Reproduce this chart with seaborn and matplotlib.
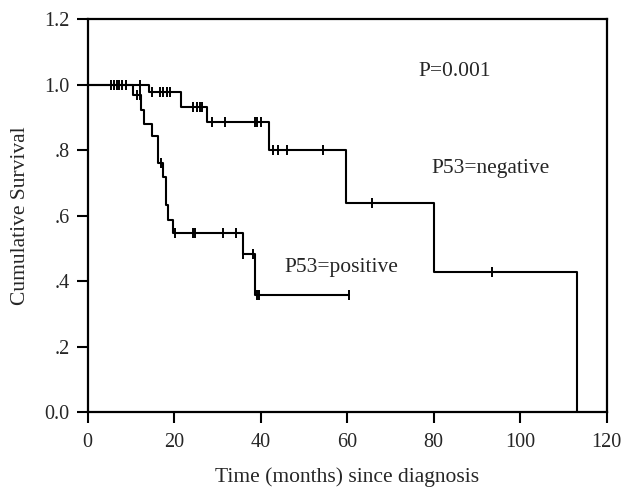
import numpy as np
import pandas as pd
import matplotlib
matplotlib.use('Agg')
import matplotlib.pyplot as plt
import seaborn as sns

# Kaplan-Meier steps (months, cumulative survival)
neg_time = [0, 14.2, 21.5, 27.5, 41.9, 59.7, 80.1, 113.1]
neg_surv = [1.0, 0.977, 0.932, 0.887, 0.800, 0.638, 0.428, 0.0]
neg_censored = [5.4, 6.2, 6.7, 7.3, 7.9, 8.9, 12.1, 14.9, 16.7, 17.3, 18.4, 19.0,
                24.4, 25.2, 26.0, 26.4, 28.7, 31.7, 38.7, 39.2, 40.0,
                42.8, 44.1, 46.0, 54.5, 65.7, 93.6]

pos_time = [0, 10.4, 12.25, 13.0, 14.9, 16.3, 17.5, 18.1, 18.5, 19.7, 35.8, 38.6, 60.4]
pos_surv = [1.0, 0.967, 0.922, 0.881, 0.843, 0.762, 0.718, 0.633, 0.587, 0.547, 0.482, 0.357, 0.357]
pos_censored = [11.3, 12.0, 17.0, 20.1, 24.4, 24.9, 31.3, 34.4, 36.0, 38.3, 39.1, 39.6, 60.4]

x_ticks = [0, 20, 40, 60, 80, 100, 120]
y_ticks = [0.0, 0.2, 0.4, 0.6, 0.8, 1.0, 1.2]
y_tick_labels = ['0.0', '.2', '.4', '.6', '.8', '1.0', '1.2']


def step_value(times, surv, t):
    idx = np.searchsorted(times, t, side='right') - 1
    return np.asarray(surv)[idx]


sns.set_style('ticks')
plt.rcParams['font.family'] = ['Liberation Serif', 'DejaVu Serif']

fig = plt.figure(figsize=(6.21, 4.91), dpi=100)
ax = fig.add_axes([0.1412, 0.1599, 0.8357, 0.8014])

for times, surv, cens in [(neg_time, neg_surv, neg_censored),
                          (pos_time, pos_surv, pos_censored)]:
    curve = pd.DataFrame({'time': times, 'surv': surv})
    sns.lineplot(data=curve, x='time', y='surv', drawstyle='steps-post',
                 estimator=None, sort=False, color='black', linewidth=1.5, ax=ax)
    marks = pd.DataFrame({'time': cens, 'surv': step_value(times, surv, cens)})
    sns.scatterplot(data=marks, x='time', y='surv', marker='|', s=45,
                    color='black', linewidth=1.4, ax=ax, zorder=3)

ax.text(76.4, 1.041, 'P=0.001', va='center', fontsize=15.5)
ax.text(79.5, 0.743, 'P53=negative', va='center', fontsize=15.5)
ax.text(45.6, 0.443, 'P53=positive', va='center', fontsize=15.5)

ax.set_xlim(0, 120)
ax.set_ylim(0, 1.2)
ax.set_xticks(x_ticks)
ax.set_yticks(y_ticks)
ax.set_yticklabels(y_tick_labels)
ax.tick_params(direction='out', length=8, width=1.5, labelsize=14.5, pad=5, color='black')
ax.tick_params(axis='x', pad=7)
for side in ['left', 'right', 'top', 'bottom']:
    ax.spines[side].set_visible(True)
    ax.spines[side].set_linewidth(1.6)
    ax.spines[side].set_color('black')

ax.set_xlabel('Time (months) since diagnosis', fontsize=15.5)
ax.set_ylabel('Cumulative Survival', fontsize=15.5)
ax.xaxis.set_label_coords(0.5, -0.14)
ax.yaxis.set_label_coords(-0.112, 0.5)

fig.savefig('out.png', dpi=100)
